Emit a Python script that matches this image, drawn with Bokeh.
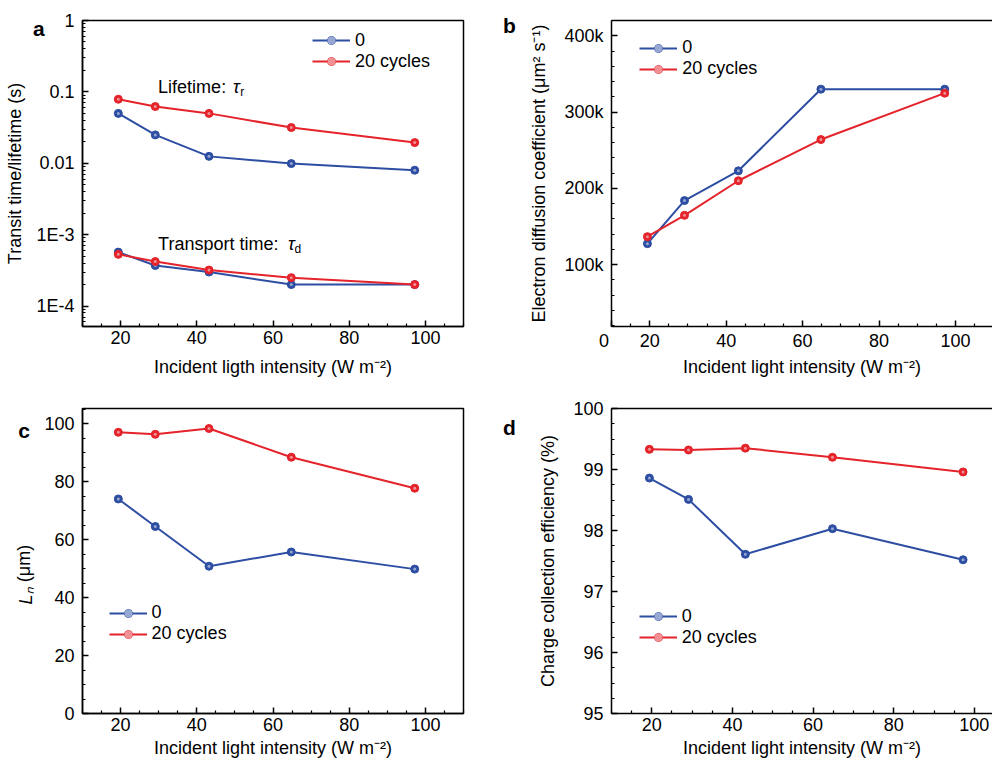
import math
from bokeh.plotting import figure
from bokeh.layouts import row, column
from bokeh.models import (Range1d, FixedTicker, SingleIntervalTicker, CustomJSTickFormatter,
                          Label, Legend, LegendItem, LinearAxis)
from bokeh.core.properties import value
from bokeh.embed import file_html
from bokeh.resources import INLINE

FONT = "Liberation Sans"
BLUE = "#2d4ea2"
RED = "#e4232a"
NB = "\u00a0"

# ---------------- data ----------------
intensity = [19.4, 29.1, 43.2, 64.8, 97.2]
series_names = ["0", "20 cycles"]

lifetime_0 = [0.050, 0.025, 0.0125, 0.0099, 0.0080]
lifetime_20 = [0.079, 0.0624, 0.050, 0.0317, 0.0195]
transport_0 = [5.7e-4, 3.7e-4, 3.0e-4, 2.0e-4, 2.0e-4]
transport_20 = [5.3e-4, 4.2e-4, 3.2e-4, 2.5e-4, 2.0e-4]

diffusion_0 = [127600, 184000, 223000, 330000, 330000]
diffusion_20 = [136700, 164700, 210000, 264000, 324800]

ln_0 = [74.0, 64.5, 50.8, 55.7, 49.8]
ln_20 = [97.0, 96.3, 98.3, 88.4, 77.7]

cce_0 = [98.86, 98.51, 97.61, 98.03, 97.52]
cce_20 = [99.33, 99.32, 99.35, 99.20, 98.96]

log_major_ticks = [1e-4, 1e-3, 1e-2, 1e-1, 1.0]
x_major_ticks = [20, 40, 60, 80, 100]
x_minor_ticks = [10, 15, 25, 30, 35, 45, 50, 55, 65, 70, 75, 85, 90, 95, 105, 110]

x_title_a = "Incident ligth intensity (W m\u207b\u00b2)"
x_title = "Incident light intensity (W m\u207b\u00b2)"


def style_axis(ax, is_x, label_standoff):
    ax.axis_label_text_font = FONT
    ax.axis_label_text_font_size = "18px"
    ax.axis_label_text_font_style = "normal"
    ax.axis_label_text_color = "black"
    ax.major_label_text_font = FONT
    ax.major_label_text_font_size = "18px"
    ax.major_label_text_color = "black"
    ax.axis_line_width = 1.5
    ax.axis_line_color = "black"
    ax.major_tick_in = 6
    ax.major_tick_out = 0
    ax.minor_tick_in = 3
    ax.minor_tick_out = 0
    ax.major_tick_line_width = 1.5
    ax.minor_tick_line_width = 1.2
    ax.major_tick_line_color = "black"
    ax.minor_tick_line_color = "black"
    if is_x:
        ax.major_label_standoff = 4
    else:
        ax.major_label_standoff = 8
    ax.axis_label_standoff = label_standoff


def make_fig(width, height, x_range, y_range, borders, x_label_standoff, y_label_standoff,
             y_axis_type="linear", closed=True):
    bl, br, bt, bb = borders
    p = figure(width=width, height=height, x_range=x_range, y_range=y_range,
               y_axis_type=y_axis_type, output_backend="svg", toolbar_location=None,
               min_border_left=bl, min_border_right=br, min_border_top=bt,
               min_border_bottom=bb)
    p.grid.visible = False
    p.background_fill_color = "white"
    p.border_fill_color = "white"
    for ax in p.xaxis:
        style_axis(ax, True, x_label_standoff)
    for ax in p.yaxis:
        style_axis(ax, False, y_label_standoff)
    if closed:
        p.outline_line_color = "black"
        p.outline_line_width = 1.5
        p.outline_line_alpha = 1.0
    else:
        p.outline_line_color = None
    return p


def add_letter_axis(p, letter, n_space, standoff, draw_line):
    # top axis: draws the top frame line (when needed) and carries the panel letter
    top = LinearAxis(ticker=FixedTicker(ticks=[10]),
                     major_label_overrides={10: letter + NB * n_space},
                     axis_line_width=1.5,
                     axis_line_color="black" if draw_line else None,
                     major_tick_in=0, major_tick_out=0, minor_tick_in=0, minor_tick_out=0,
                     major_tick_line_color=None, minor_tick_line_color=None,
                     major_label_standoff=standoff,
                     major_label_text_font=FONT, major_label_text_font_size="21px",
                     major_label_text_font_style="bold", major_label_text_color="black")
    p.add_layout(top, "above")


def draw_series(p, x, y, color):
    r_line = p.line(x, y, line_color=color, line_width=2)
    r_dot = p.scatter(x, y, size=8, fill_color=color, line_color=color, line_width=1)
    r_hi = p.scatter(x, y, size=3, fill_color="white", fill_alpha=0.5, line_color=None)
    return [r_line, r_dot, r_hi]


def add_legend(p, groups, x, y):
    items = [LegendItem(label=value(n), renderers=rs) for n, rs in zip(series_names, groups)]
    leg = Legend(items=items, location=(x, y), orientation="vertical")
    leg.label_text_font = FONT
    leg.label_text_font_size = "18px"
    leg.label_text_color = "black"
    leg.label_text_baseline = "middle"
    leg.glyph_width = 38
    leg.glyph_height = 20
    leg.label_height = 20
    leg.label_standoff = 5
    leg.spacing = 0
    leg.padding = 0
    leg.margin = 0
    leg.border_line_alpha = 0
    leg.background_fill_alpha = 0
    p.add_layout(leg)


def text(p, t, x, y, size="18px", style="normal"):
    p.add_layout(Label(x=x, y=y, x_units="screen", y_units="screen", text=t,
                       text_font=FONT, text_font_size=size, text_font_style=style,
                       text_align="left", text_baseline="alphabetic", text_color="black"))


def x_ticker():
    return FixedTicker(ticks=x_major_ticks, minor_ticks=x_minor_ticks)


# ---------------- panel a ----------------
pa = make_fig(496, 385, Range1d(10, 110), Range1d(10 ** -4.286, 1.0), (82, 33, 20, 59), 10, 8,
              y_axis_type="log")
pa.xaxis.ticker = x_ticker()
minor_log = [m * 10.0 ** k for k in range(-5, 0) for m in range(2, 10)]
pa.yaxis.ticker = FixedTicker(ticks=log_major_ticks, minor_ticks=minor_log)
pa.yaxis.formatter = CustomJSTickFormatter(code="""
if (tick >= 0.005) { return String(Number(tick.toPrecision(3))); }
return '1E' + Math.round(Math.log10(tick));
""")
pa.xaxis.axis_label = x_title_a
pa.yaxis.axis_label = "Transit time/lifetime (s)"
ga0 = draw_series(pa, intensity, lifetime_0, BLUE)
ga20 = draw_series(pa, intensity, lifetime_20, RED)
draw_series(pa, intensity, transport_0, BLUE)
draw_series(pa, intensity, transport_20, RED)
add_legend(pa, [ga0, ga20], 230, 254.4)
text(pa, "Lifetime: ", 75.6, 239.7)
text(pa, "\u03c4", 150.6, 239.7, style="italic")
text(pa, "r", 157.8, 234.2, size="12px")
text(pa, "Transport time: ", 75.6, 82.7)
text(pa, "\u03c4", 205.6, 82.7, style="italic")
text(pa, "d", 212.0, 77.2, size="12px")
add_letter_axis(pa, "a", 15, -19, False)

# ---------------- panel b ----------------
pb = make_fig(496, 385, Range1d(10, 109.7), Range1d(19000, 420000), (115, 0, 20, 59), 3, 12,
              closed=False)
pb.xaxis.ticker = FixedTicker(ticks=[10] + x_major_ticks, minor_ticks=x_minor_ticks)
pb.xaxis.major_label_overrides = {10: "0" + NB * 3}
pb.yaxis.ticker = SingleIntervalTicker(interval=100000, num_minor_ticks=5)
pb.yaxis.formatter = CustomJSTickFormatter(code="return (tick/1000).toFixed(0) + 'k';")
pb.xaxis.axis_label = x_title
pb.yaxis.axis_label = "Electron diffusion coefficient (\u03bcm\u00b2 s\u207b\u00b9)"
gb0 = draw_series(pb, intensity, diffusion_0, BLUE)
gb20 = draw_series(pb, intensity, diffusion_20, RED)
add_legend(pb, [gb0, gb20], 28.3, 246.7)
add_letter_axis(pb, "b", 35, -16, True)

# ---------------- panel c ----------------
pc = make_fig(496, 376, Range1d(10, 110), Range1d(0, 105.2), (82, 33, 23, 48), 4, 5)
pc.xaxis.ticker = x_ticker()
pc.yaxis.ticker = SingleIntervalTicker(interval=20, num_minor_ticks=4)
pc.xaxis.axis_label = x_title
pc.yaxis.axis_label = "L\u2099" + NB * 14
pc.yaxis.axis_label_text_font_style = "italic"
outer = LinearAxis(ticker=FixedTicker(ticks=[]), axis_line_color=None,
                   major_tick_line_color=None, minor_tick_line_color=None,
                   axis_label="(\u03bcm)" + NB, axis_label_standoff=-20,
                   axis_label_text_font=FONT, axis_label_text_font_size="18px",
                   axis_label_text_font_style="normal", axis_label_text_color="black")
pc.add_layout(outer, "left")
gc0 = draw_series(pc, intensity, ln_0, BLUE)
gc20 = draw_series(pc, intensity, ln_20, RED)
add_legend(pc, [gc0, gc20], 26.6, 68.7)
add_letter_axis(pc, "c", 20, -33, False)

# ---------------- panel d ----------------
pd = make_fig(496, 376, Range1d(10, 104.5), Range1d(95, 100), (115, 0, 23, 48), 4, 12,
              closed=False)
pd.xaxis.ticker = x_ticker()
pd.yaxis.ticker = SingleIntervalTicker(interval=1, num_minor_ticks=4)
pd.xaxis.axis_label = x_title
pd.yaxis.axis_label = "Charge collection efficiency (%)"
gd0 = draw_series(pd, intensity, cce_0, BLUE)
gd20 = draw_series(pd, intensity, cce_20, RED)
add_legend(pd, [gd0, gd20], 27.7, 65.3)
add_letter_axis(pd, "d", 35, -30, True)

layout = column(row(pa, pb), row(pc, pd))
open("out.html", "w").write(file_html(layout, INLINE))
